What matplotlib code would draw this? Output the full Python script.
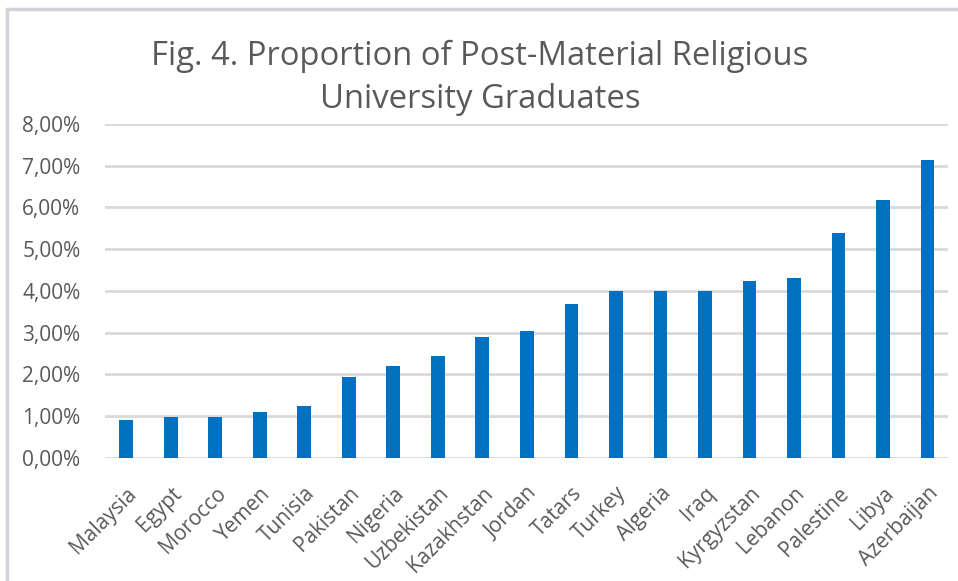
import numpy as np
import matplotlib.pyplot as plt
from matplotlib.patches import Rectangle
from matplotlib.ticker import FuncFormatter

countries = ['Malaysia', 'Egypt', 'Morocco', 'Yemen', 'Tunisia', 'Pakistan',
             'Nigeria', 'Uzbekistan', 'Kazakhstan', 'Jordan', 'Tatars', 'Turkey',
             'Algeria', 'Iraq', 'Kyrgyzstan', 'Lebanon', 'Palestine', 'Libya',
             'Azerbaijan']
share = [0.92, 0.98, 0.98, 1.10, 1.24, 1.94, 2.20, 2.45, 2.90, 3.03, 3.68,
         3.99, 3.99, 3.99, 4.25, 4.31, 5.40, 6.17, 7.13]
yticks = [0, 1, 2, 3, 4, 5, 6, 7, 8]

plt.rcParams['font.family'] = ['Open Sans', 'DejaVu Sans']
text_col = '#595959'

fig = plt.figure(figsize=(9.58, 5.81), dpi=100)
ax = fig.add_axes([0.110, 0.2117, 0.880, 0.575])

x = np.arange(len(countries))
ax.bar(x, share, width=0.31, color='#0070C0', zorder=3)

ax.set_xlim(-0.47, len(countries) - 0.53)
ax.set_ylim(0, 8)
ax.set_yticks(yticks)
ax.yaxis.set_major_formatter(FuncFormatter(lambda v, p: f'{v:.2f}%'.replace('.', ',')))
ax.grid(axis='y', color='#d9d9d9', linewidth=2, zorder=0)
for s in ax.spines.values():
    s.set_visible(False)
ax.tick_params(axis='both', length=0, colors=text_col, labelsize=15)
ax.tick_params(axis='y', pad=18)
ax.set_xticks(x)
ax.set_xticklabels(countries, rotation=45, ha='right', rotation_mode='anchor')
ax.tick_params(axis='x', pad=18)

fig.text(0.501, 0.866, 'Fig. 4. Proportion of Post-Material Religious\nUniversity Graduates',
         ha='center', va='center', fontsize=23.6, color=text_col, linespacing=1.42)

# chart frame
fig.patches.append(Rectangle((7 / 958, -0.1), 1.2, 1 - 9 / 581 + 0.1,
                             transform=fig.transFigure, fill=False,
                             edgecolor='#d0d4d8', linewidth=2.5))

fig.savefig('out.png', dpi=100)
